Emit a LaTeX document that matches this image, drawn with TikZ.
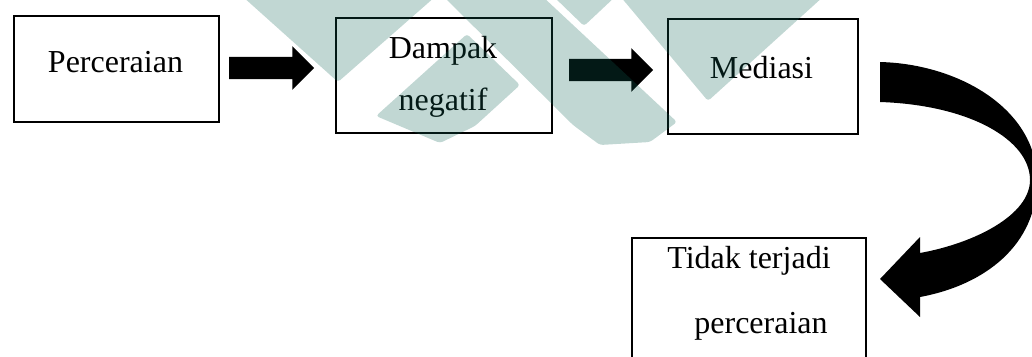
\documentclass[tikz,border=0pt]{standalone}
\usepackage{fontspec}
\setmainfont{Liberation Serif}
\usetikzlibrary{shapes.arrows}
\definecolor{wm}{RGB}{15,100,85}
\begin{document}
\begin{tikzpicture}[x=1pt,y=-1pt,
  box/.style={draw=black,line width=1.6pt,rectangle,inner sep=0pt,anchor=north west},
  lbl/.style={anchor=base,inner sep=0pt,font=\fontsize{32}{38}\selectfont},
  blockarrow/.style={single arrow,fill=black,draw=none,inner sep=11pt,
    single arrow head extend=10.75pt,single arrow tip angle=90,
    anchor=tail,minimum height=85pt},
  wmark/.style={fill=wm,fill opacity=0.26,draw=none,rounded corners=3pt}]
\useasboundingbox (0,0) rectangle (1032,356);
\clip (0,0) rectangle (1032,356);
% boxes
\node[box,minimum width=205pt,minimum height=106pt] (b1) at (13,15) {};
\node[box,minimum width=216pt,minimum height=115pt] (b2) at (335,17) {};
\node[box,minimum width=190pt,minimum height=115pt] (b3) at (667,18) {};
\node[box,minimum width=234pt,minimum height=140pt] (b4) at (631,237) {};
% labels
\node[lbl] (t1) at (115.5,72) {Perceraian};
\node[lbl] (t2a) at (443,58) {Dampak};
\node[lbl] (t2b) at (443,110) {negatif};
\node[lbl] (t3) at (761.5,78) {Mediasi};
\node[lbl] (t4a) at (749,268) {Tidak terjadi};
\node[lbl] (t4b) at (761,333) {perceraian};
% straight block arrows
\node[blockarrow] (a1) at (229,68) {};
\node[blockarrow,minimum height=84pt] (a2) at (569,70) {};
% curved block arrow from b3 to b4
\coordinate (cs) at (880,82);
\coordinate (ce) at (880,279);
\fill[black] (880,62) .. controls (960,64) and (1037,110) .. (1037,180)
  .. controls (1037,245) and (985,285) .. (920,297)
  -- (920,317) -- (ce) -- (920,237) -- (920,253)
  .. controls (975,243) and (1030,215) .. (1030,180)
  .. controls (1030,140) and (970,105) .. (880,102) -- cycle;
% watermark
\fill[wmark] (242,-4) -- (436,-4) -- (338,82) -- cycle;
\fill[wmark] (467,34) -- (520,85) -- (475,126) -- (440,143) -- (376,116) -- cycle;
\fill[wmark] (443,-4) -- (542,-4) -- (677,122) -- (650,142) -- (600,145) -- (573,125) -- cycle;
\fill[wmark] (553,-4) -- (616,-4) -- (584,26) -- cycle;
\fill[wmark] (620,-4) -- (824,-4) -- (708,101) -- cycle;
\end{tikzpicture}
\end{document}
